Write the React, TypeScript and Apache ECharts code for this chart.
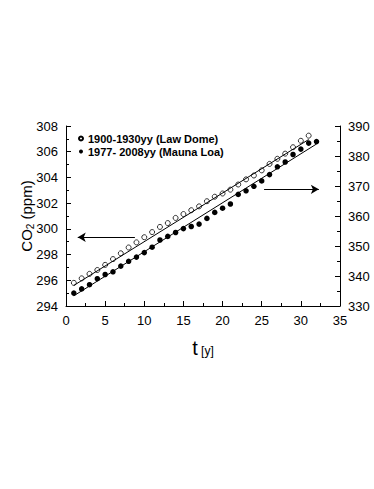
import React, { useEffect, useRef } from "react";
import * as echarts from "echarts";

const years: number[] = Array.from({ length: 32 }, (_, i) => i + 1);
const lawDome: number[] = [
  295.8, 296.15, 296.5, 296.8, 297.2, 297.65, 298.1, 298.55, 298.95, 299.35,
  299.75, 300.15, 300.45, 300.85, 301.15, 301.45, 301.75, 302.15, 302.5, 302.75,
  303.05, 303.45, 303.85, 304.15, 304.55, 305.05, 305.45, 305.85, 306.35, 306.85,
  307.25,
];
const maunaLoa: number[] = [
  334.3, 335.7, 337.1, 339.1, 340.5, 341.4, 343.3, 344.9, 346.3, 347.8,
  349.6, 352.0, 353.2, 354.5, 355.8, 356.5, 357.3, 359.2, 361.2, 362.6,
  364.0, 367.2, 368.4, 369.9, 371.7, 373.8, 376.4, 378.0, 380.5, 382.3,
  384.3, 384.8,
];
const lawDomeFit: [number, number][] = [
  [1, 295.6],
  [31, 306.95],
];
const maunaLoaFit: [number, number][] = [
  [1, 333.4],
  [32, 384.0],
];
const leftArrow: [number, number][] = [
  [8.8, 299.35],
  [1.5, 299.35],
];
const rightArrow: [number, number][] = [
  [25.3, 368.9],
  [32.3, 368.9],
];
const seriesNames = ["1900-1930yy (Law Dome)", "1977- 2008yy (Mauna Loa)"];

const FONT = "Liberation Sans, Arial, Helvetica, sans-serif";

export default function App() {
  const ref = useRef<HTMLDivElement>(null);
  useEffect(() => {
    if (!ref.current) return;
    const chart = echarts.init(ref.current, undefined, { renderer: "svg" });
    const axisCommon = {
      axisLine: { show: true, lineStyle: { color: "#000", width: 1 } },
      axisTick: { show: true, inside: true, length: 5, lineStyle: { color: "#000" } },
      minorTick: { show: true, splitNumber: 2, length: 3, lineStyle: { color: "#000" } },
      splitLine: { show: false },
      axisLabel: { color: "#000", fontFamily: FONT, fontSize: 13 },
    };
    const arrow = (pts: [number, number][], yIndex: number) => ({
      type: "line",
      yAxisIndex: yIndex,
      data: [],
      symbol: "none",
      silent: true,
      markLine: {
        silent: true,
        symbol: ["none", "arrow"],
        symbolSize: [7, 8],
        label: { show: false },
        lineStyle: { color: "#000", width: 1, type: "solid" },
        data: [[{ coord: pts[0] }, { coord: pts[1] }]],
      },
    });
    chart.setOption({
      animation: false,
      backgroundColor: "#fff",
      grid: { left: 66, right: 34, top: 126, bottom: 183, containLabel: false },
      legend: {
        orient: "vertical",
        left: 73,
        top: 128,
        itemGap: 2,
        itemWidth: 4,
        itemHeight: 4,
        textStyle: { fontFamily: FONT, fontSize: 11, fontWeight: "bold", color: "#000" },
        data: [
          { name: seriesNames[0], icon: "circle" },
          { name: seriesNames[1], icon: "circle" },
        ],
      },
      graphic: [
        {
          type: "text",
          x: 26,
          y: 216,
          rotation: Math.PI / 2,
          silent: true,
          style: {
            text: "{a|CO}{b|2}{a| (ppm)}",
            align: "center",
            verticalAlign: "middle",
            rich: {
              a: { fontFamily: FONT, fontSize: 15, fill: "#000" },
              b: { fontFamily: FONT, fontSize: 10, fill: "#000", padding: [8, 0, 0, 0] },
            },
          },
        },
      ],
      xAxis: {
        type: "value",
        min: 0,
        max: 35,
        interval: 5,
        ...axisCommon,
        name: "{t|t} {s|[y]}",
        nameLocation: "middle",
        nameGap: 32,
        nameTextStyle: {
          rich: {
            t: { fontFamily: FONT, fontSize: 20, color: "#000" },
            s: { fontFamily: FONT, fontSize: 12, color: "#000", padding: [6, 0, 0, 0] },
          },
        },
      },
      yAxis: [
        {
          type: "value",
          min: 294,
          max: 308,
          interval: 2,
          ...axisCommon,
        },
        {
          type: "value",
          position: "right",
          min: 330,
          max: 390,
          interval: 10,
          ...axisCommon,
        },
      ],
      series: [
        {
          name: seriesNames[0],
          type: "scatter",
          yAxisIndex: 0,
          symbol: "circle",
          symbolSize: 5,
          itemStyle: { color: "#fff", borderColor: "#000", borderWidth: 0.8, opacity: 1 },
          data: lawDome.map((v, i) => [years[i], v]),
        },
        {
          name: seriesNames[1],
          type: "scatter",
          yAxisIndex: 1,
          symbol: "circle",
          symbolSize: 5.5,
          itemStyle: { color: "#000", opacity: 1 },
          data: maunaLoa.map((v, i) => [years[i], v]),
        },
        {
          type: "line",
          yAxisIndex: 0,
          data: lawDomeFit,
          symbol: "none",
          silent: true,
          lineStyle: { color: "#000", width: 1 },
        },
        {
          type: "line",
          yAxisIndex: 1,
          data: maunaLoaFit,
          symbol: "none",
          silent: true,
          lineStyle: { color: "#000", width: 1 },
        },
        arrow(leftArrow, 0),
        arrow(rightArrow, 1),
      ],
    });
    return () => chart.dispose();
  }, []);
  return (
    <div
      ref={ref}
      style={{ position: "fixed", left: 0, top: 0, width: 374, height: 489, background: "#fff" }}
    />
  );
}
